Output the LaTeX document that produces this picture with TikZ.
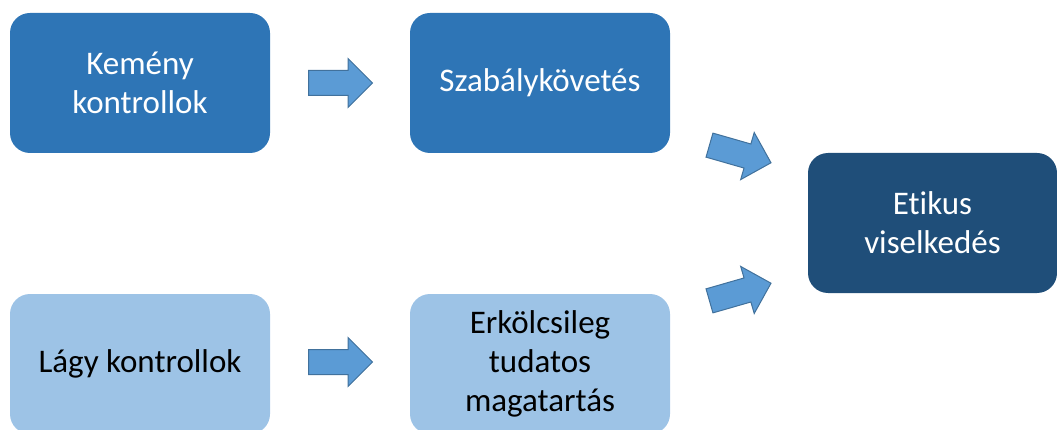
\documentclass[tikz,border=0pt]{standalone}
\usepackage{fontspec}
\setmainfont{Carlito}[Ligatures=NoCommon]
\usepackage{xcolor}
\usetikzlibrary{shapes.arrows}
\definecolor{midblue}{HTML}{2E75B6}
\definecolor{deepblue}{HTML}{1F4E79}
\definecolor{paleblue}{HTML}{9DC3E6}
\definecolor{arrowblue}{HTML}{5B9BD5}
\definecolor{arrowedge}{HTML}{41719C}
\tikzset{
    base-box/.style = {rectangle, rounded corners=20pt, minimum width=260pt, minimum height=140pt, align=center, font=\fontsize{33}{39}\selectfont},
    hard-box/.style = {base-box, fill=midblue, text=white},
    soft-box/.style = {base-box, fill=paleblue, text=black},
    goal-box/.style = {base-box, fill=deepblue, text=white, minimum width=249pt},
    block-arrow/.style = {single arrow, draw=arrowedge, fill=arrowblue, line width=1pt, inner xsep=0pt, inner ysep=12pt, single arrow head extend=12pt, single arrow head indent=0pt, minimum height=64pt, anchor=tail},
}

\begin{document}
\begin{tikzpicture}[x=1pt, y=-1pt]
\clip (0,0) rectangle (1057,430);
\node [hard-box] (hard) at (140,83) {Kemény\\kontrollok};
\node [hard-box] (rules) at (540,83) {Szabálykövetés};
\node [goal-box] (ethic) at (932.5,223) {Etikus\\viselkedés};
\node [soft-box] (soft) at (140,364) {Lágy kontrollok};
\node [soft-box] (moral) at (540,364) {Erkölcsileg\\tudatos\\magatartás};
\node [block-arrow] (hard-rules) at (308,83) {};
\node [block-arrow] (soft-moral) at (308,362) {};
\node [block-arrow, rotate=-16] (rules-ethic) at (709,145) {};
\node [block-arrow, rotate=16] (moral-ethic) at (709,301) {};
\end{tikzpicture}
\end{document}
